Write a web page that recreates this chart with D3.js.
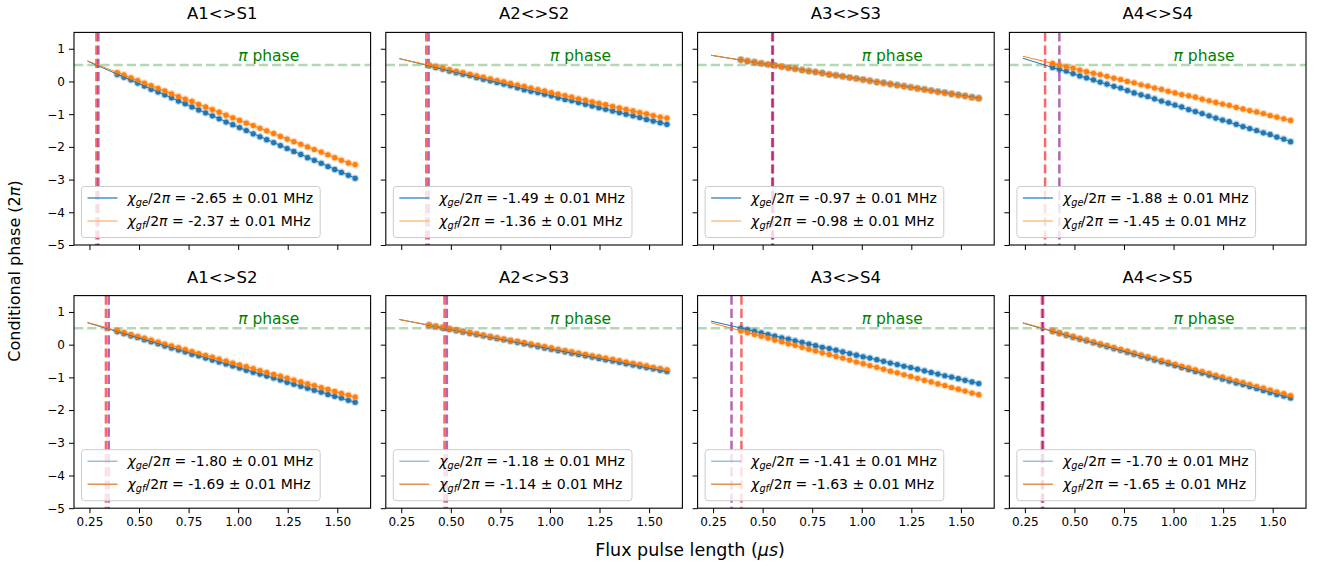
<!DOCTYPE html>
<html>
<head>
<meta charset="utf-8">
<script src="https://cdn.jsdelivr.net/npm/d3@7/dist/d3.min.js"></script>
<style>
  html, body { margin: 0; padding: 0; background: #ffffff; }
  svg { display: block; font-family: "DejaVu Sans", sans-serif; }
</style>
</head>
<body>
<svg id="chart" width="1324" height="568"></svg>
<script>
// ---------------- DATA ----------------
const panelTitles = ["A1<>S1", "A2<>S2", "A3<>S3", "A4<>S4", "A1<>S2", "A2<>S3", "A3<>S4", "A4<>S5"];
const chiGe = [-2.65, -1.49, -0.97, -1.88, -1.80, -1.18, -1.41, -1.70];
const chiGf = [-2.37, -1.36, -0.98, -1.45, -1.69, -1.14, -1.63, -1.65];
const chiErrGe = [0.01, 0.01, 0.01, 0.01, 0.01, 0.01, 0.01, 0.01];
const chiErrGf = [0.01, 0.01, 0.01, 0.01, 0.01, 0.01, 0.01, 0.01];

// fitted lines: phase at the start and end of the fit range
const fitTimes = [0.24, 1.60];
const fitGe = [[0.62, -2.98], [0.70, -1.32], [0.80, -0.52], [0.71, -1.85], [0.67, -1.78], [0.77, -0.84], [0.72, -1.20], [0.66, -1.65]];
const fitGf = [[0.63, -2.59], [0.70, -1.15], [0.80, -0.53], [0.77, -1.21], [0.68, -1.62], [0.77, -0.78], [0.67, -1.55], [0.67, -1.58]];

// pulse lengths where each fit reaches the pi phase (vertical dashed markers)
const piTimeGe = [0.285, 0.376, 0.548, 0.352, 0.333, 0.468, 0.393, 0.336];
const piTimeGf = [0.295, 0.388, 0.552, 0.424, 0.347, 0.480, 0.343, 0.342];
const piPhaseLevel = 0.5;

const xTicks = [0.25, 0.50, 0.75, 1.00, 1.25, 1.50];
const yTicks = [-5, -4, -3, -2, -1, 0, 1];

const pulseTimes = [0.390, 0.424, 0.459, 0.493, 0.527, 0.561, 0.596, 0.630, 0.664, 0.699, 0.733, 0.767,
  0.801, 0.836, 0.870, 0.904, 0.939, 0.973, 1.007, 1.041, 1.076, 1.110, 1.144, 1.179,
  1.213, 1.247, 1.281, 1.316, 1.350, 1.384, 1.419, 1.453, 1.487, 1.521, 1.556, 1.590];

const phaseGe_A1S1 = [0.21, 0.13, 0.05, -0.05, -0.14, -0.24, -0.32, -0.41, -0.50, -0.60, -0.68, -0.78,
  -0.87, -0.96, -1.05, -1.14, -1.24, -1.32, -1.41, -1.50, -1.60, -1.69, -1.78, -1.87,
  -1.96, -2.05, -2.14, -2.23, -2.33, -2.41, -2.50, -2.60, -2.69, -2.78, -2.87, -2.96];
const phaseGf_A1S1 = [0.27, 0.20, 0.11, 0.03, -0.05, -0.13, -0.21, -0.29, -0.38, -0.46, -0.54, -0.61,
  -0.70, -0.78, -0.86, -0.94, -1.03, -1.11, -1.19, -1.27, -1.35, -1.43, -1.51, -1.59,
  -1.68, -1.76, -1.84, -1.92, -2.00, -2.08, -2.16, -2.24, -2.33, -2.41, -2.49, -2.54];

const phaseGe_A2S2 = [0.48, 0.43, 0.38, 0.32, 0.27, 0.22, 0.18, 0.12, 0.07, 0.02, -0.03, -0.08,
  -0.13, -0.19, -0.25, -0.30, -0.34, -0.39, -0.44, -0.50, -0.55, -0.59, -0.64, -0.70,
  -0.75, -0.80, -0.85, -0.90, -0.95, -1.00, -1.05, -1.10, -1.16, -1.21, -1.26, -1.31];
const phaseGf_A2S2 = [0.50, 0.46, 0.41, 0.36, 0.31, 0.27, 0.22, 0.17, 0.13, 0.08, 0.03, -0.01,
  -0.06, -0.11, -0.15, -0.20, -0.25, -0.29, -0.34, -0.39, -0.43, -0.48, -0.53, -0.57,
  -0.62, -0.67, -0.71, -0.76, -0.81, -0.85, -0.90, -0.95, -0.99, -1.04, -1.09, -1.12];

const phaseGe_A3S3 = [0.66, 0.62, 0.59, 0.55, 0.52, 0.49, 0.45, 0.42, 0.39, 0.35, 0.32, 0.29,
  0.26, 0.21, 0.19, 0.16, 0.12, 0.09, 0.06, 0.02, -0.02, -0.04, -0.08, -0.11,
  -0.14, -0.18, -0.21, -0.24, -0.28, -0.31, -0.34, -0.38, -0.41, -0.44, -0.48, -0.51];
const phaseGf_A3S3 = [0.66, 0.63, 0.59, 0.56, 0.52, 0.49, 0.46, 0.42, 0.39, 0.35, 0.32, 0.29,
  0.25, 0.22, 0.19, 0.15, 0.12, 0.09, 0.05, 0.02, -0.02, -0.05, -0.08, -0.12,
  -0.15, -0.18, -0.22, -0.25, -0.28, -0.32, -0.35, -0.38, -0.42, -0.45, -0.49, -0.52];

const phaseGe_A4S4 = [0.43, 0.37, 0.32, 0.24, 0.17, 0.11, 0.05, -0.02, -0.08, -0.15, -0.20, -0.28,
  -0.35, -0.41, -0.46, -0.53, -0.60, -0.66, -0.72, -0.78, -0.86, -0.92, -0.98, -1.05,
  -1.12, -1.18, -1.23, -1.31, -1.38, -1.44, -1.50, -1.57, -1.62, -1.70, -1.76, -1.84];
const phaseGf_A4S4 = [0.55, 0.50, 0.45, 0.41, 0.35, 0.30, 0.25, 0.21, 0.16, 0.10, 0.06, 0.00,
  -0.04, -0.10, -0.14, -0.20, -0.24, -0.30, -0.35, -0.40, -0.44, -0.48, -0.54, -0.59,
  -0.64, -0.69, -0.73, -0.79, -0.84, -0.89, -0.93, -0.98, -1.04, -1.09, -1.14, -1.19];

const phaseGe_A1S2 = [0.40, 0.34, 0.27, 0.22, 0.15, 0.09, 0.03, -0.04, -0.10, -0.16, -0.22, -0.29,
  -0.34, -0.41, -0.47, -0.53, -0.59, -0.65, -0.71, -0.78, -0.84, -0.90, -0.96, -1.02,
  -1.08, -1.15, -1.21, -1.27, -1.33, -1.39, -1.45, -1.52, -1.58, -1.63, -1.70, -1.76];
const phaseGf_A1S2 = [0.43, 0.37, 0.31, 0.25, 0.20, 0.14, 0.08, 0.02, -0.04, -0.09, -0.15, -0.21,
  -0.27, -0.33, -0.38, -0.44, -0.50, -0.56, -0.62, -0.67, -0.73, -0.79, -0.85, -0.91,
  -0.96, -1.02, -1.08, -1.14, -1.20, -1.25, -1.31, -1.37, -1.43, -1.49, -1.54, -1.60];

const phaseGe_A2S3 = [0.59, 0.55, 0.51, 0.47, 0.43, 0.39, 0.35, 0.31, 0.27, 0.23, 0.19, 0.15,
  0.11, 0.07, 0.03, -0.01, -0.06, -0.10, -0.14, -0.18, -0.22, -0.26, -0.30, -0.34,
  -0.38, -0.42, -0.46, -0.50, -0.54, -0.58, -0.62, -0.66, -0.70, -0.74, -0.78, -0.82];
const phaseGf_A2S3 = [0.60, 0.56, 0.53, 0.49, 0.45, 0.41, 0.37, 0.33, 0.29, 0.25, 0.21, 0.17,
  0.13, 0.10, 0.06, 0.02, -0.02, -0.06, -0.10, -0.14, -0.18, -0.22, -0.26, -0.30,
  -0.34, -0.37, -0.41, -0.45, -0.49, -0.53, -0.57, -0.61, -0.65, -0.69, -0.73, -0.77];

const phaseGe_A3S4 = [0.50, 0.46, 0.41, 0.36, 0.31, 0.26, 0.21, 0.17, 0.12, 0.07, 0.02, -0.03,
  -0.08, -0.12, -0.17, -0.22, -0.27, -0.32, -0.37, -0.41, -0.46, -0.51, -0.56, -0.61,
  -0.66, -0.70, -0.75, -0.80, -0.85, -0.90, -0.95, -0.99, -1.04, -1.09, -1.14, -1.19];
const phaseGf_A3S4 = [0.42, 0.37, 0.31, 0.26, 0.20, 0.14, 0.09, 0.03, -0.02, -0.08, -0.14, -0.19,
  -0.25, -0.30, -0.36, -0.41, -0.47, -0.53, -0.58, -0.64, -0.69, -0.75, -0.81, -0.86,
  -0.92, -0.97, -1.03, -1.09, -1.14, -1.20, -1.25, -1.31, -1.36, -1.42, -1.48, -1.53];

const phaseGe_A4S5 = [0.41, 0.35, 0.29, 0.23, 0.17, 0.12, 0.06, 0.00, -0.06, -0.12, -0.17, -0.23,
  -0.29, -0.35, -0.41, -0.47, -0.52, -0.58, -0.64, -0.70, -0.76, -0.82, -0.87, -0.93,
  -0.99, -1.05, -1.11, -1.17, -1.22, -1.28, -1.34, -1.40, -1.46, -1.52, -1.57, -1.63];
const phaseGf_A4S5 = [0.42, 0.36, 0.31, 0.25, 0.19, 0.14, 0.08, 0.02, -0.03, -0.09, -0.15, -0.20,
  -0.26, -0.32, -0.37, -0.43, -0.49, -0.54, -0.60, -0.66, -0.71, -0.77, -0.82, -0.88,
  -0.94, -0.99, -1.05, -1.11, -1.16, -1.22, -1.28, -1.33, -1.39, -1.45, -1.50, -1.56];

const phaseGeSets = [phaseGe_A1S1, phaseGe_A2S2, phaseGe_A3S3, phaseGe_A4S4, phaseGe_A1S2, phaseGe_A2S3, phaseGe_A3S4, phaseGe_A4S5];
const phaseGfSets = [phaseGf_A1S1, phaseGf_A2S2, phaseGf_A3S3, phaseGf_A4S4, phaseGf_A1S2, phaseGf_A2S3, phaseGf_A3S4, phaseGf_A4S5];

// ---------------- LAYOUT / STYLE ----------------
const svg = d3.select("#chart");
const BLUE = "#1f77b4", ORANGE = "#ff7f0e";
const panelW = 296.6, panelH = 212.6;
const colX = c => 74 + c * 311.8;
const rowY = [32.4, 295.6];
const tickFont = 12, titleFont = 16.5, legendFont = 14, xLabelFont = 17.5, yLabelFont = 16;

const xDomain = [0.172, 1.668];
const yDomain = [-5, 1.5];

svg.append("rect").attr("width", 1324).attr("height", 568).attr("fill", "#ffffff");

panelTitles.forEach((title, i) => {
  const r = Math.floor(i / 4), c = i % 4;
  const left = colX(c), top = rowY[r];
  const g = svg.append("g").attr("transform", `translate(${left},${top})`);
  const x = d3.scaleLinear().domain(xDomain).range([0, panelW]);
  const y = d3.scaleLinear().domain(yDomain).range([panelH, 0]);

  const clipId = "clip" + i;
  g.append("clipPath").attr("id", clipId).append("rect").attr("width", panelW).attr("height", panelH);
  const plot = g.append("g").attr("clip-path", `url(#${clipId})`);

  // pi-phase horizontal line
  plot.append("line")
    .attr("x1", 0).attr("x2", panelW)
    .attr("y1", y(piPhaseLevel)).attr("y2", y(piPhaseLevel))
    .attr("stroke", "#008000").attr("stroke-opacity", 0.3)
    .attr("stroke-width", 2.5).attr("stroke-dasharray", "9.2,4");

  // vertical markers
  [[piTimeGe[i], "#ff0000"], [piTimeGf[i], "#800080"]].forEach(([t, col]) => {
    plot.append("line")
      .attr("x1", x(t)).attr("x2", x(t)).attr("y1", 0).attr("y2", panelH)
      .attr("stroke", col).attr("stroke-opacity", 0.6)
      .attr("stroke-width", 2.5).attr("stroke-dasharray", "9.2,4");
  });

  // data points with error halos + fit lines
  const series = [
    { vals: phaseGeSets[i], fit: fitGe[i], col: BLUE },
    { vals: phaseGfSets[i], fit: fitGf[i], col: ORANGE }
  ];
  series.forEach(s => {
    const pts = pulseTimes.map((t, k) => [t, s.vals[k]]);
    plot.append("g").selectAll("circle").data(pts).join("circle")
      .attr("cx", d => x(d[0])).attr("cy", d => y(d[1])).attr("r", 3.8)
      .attr("fill", s.col).attr("fill-opacity", 0.3);
    plot.append("g").selectAll("circle").data(pts).join("circle")
      .attr("cx", d => x(d[0])).attr("cy", d => y(d[1])).attr("r", 2.6)
      .attr("fill", s.col);
  });
  series.forEach(s => {
    plot.append("line")
      .attr("x1", x(fitTimes[0])).attr("x2", x(fitTimes[1]))
      .attr("y1", y(s.fit[0])).attr("y2", y(s.fit[1]))
      .attr("stroke", s.col).attr("stroke-width", 1);
  });

  // pi phase text
  const pt = plot.append("text")
    .attr("x", x(1.0)).attr("y", y(0.62))
    .attr("fill", "#008000").attr("font-size", 15.5);
  pt.append("tspan").attr("font-style", "italic").text("π");
  pt.append("tspan").text(" phase");

  // axes
  const xAxis = d3.axisBottom(x).tickValues(xTicks).tickSize(5).tickPadding(4)
    .tickFormat(r === 1 ? d3.format(".2f") : () => "");
  const yAxis = d3.axisLeft(y).tickValues(yTicks).tickSize(5).tickPadding(4)
    .tickFormat(c === 0 ? (d => d3.format("d")(d).replace("-", "\u2212")) : () => "");
  const gx = g.append("g").attr("transform", `translate(0,${panelH})`).call(xAxis);
  const gy = g.append("g").call(yAxis);
  [gx, gy].forEach(a => {
    a.select(".domain").remove();
    a.selectAll("line").attr("stroke", "#000").attr("stroke-width", 1);
    a.selectAll("text").attr("fill", "#000").attr("font-size", tickFont)
      .attr("font-family", "DejaVu Sans");
  });

  // frame
  g.append("rect").attr("width", panelW).attr("height", panelH)
    .attr("fill", "none").attr("stroke", "#000").attr("stroke-width", 1.1);

  // title
  g.append("text").attr("x", panelW / 2).attr("y", -13)
    .attr("text-anchor", "middle").attr("font-size", titleFont).attr("fill", "#000")
    .text(title);

  // legend
  const lg = g.append("g").attr("transform", `translate(7.5,${panelH - 58.5})`);
  const box = lg.append("rect").attr("rx", 3).attr("ry", 3)
    .attr("fill", "#ffffff").attr("fill-opacity", 0.8)
    .attr("stroke", "#cccccc").attr("stroke-width", 1).attr("height", 51);
  const entries = [
    { sub: "ge", chi: chiGe[i], err: chiErrGe[i], col: r === 0 ? BLUE : "#7fb2d8" },
    { sub: "gf", chi: chiGf[i], err: chiErrGf[i], col: r === 0 ? "#ffb066" : "#d9772e" }
  ];
  let maxW = 0;
  entries.forEach((e, k) => {
    const cy = 11.5 + k * 23;
    lg.append("line").attr("x1", 6).attr("x2", 36).attr("y1", cy).attr("y2", cy)
      .attr("stroke", e.col).attr("stroke-width", 1.2);
    const t = lg.append("text").attr("x", 46).attr("y", cy + 5)
      .attr("font-size", legendFont).attr("fill", "#000");
    t.append("tspan").attr("font-style", "italic").text("χ");
    t.append("tspan").attr("font-style", "italic").attr("font-size", legendFont * 0.7)
      .attr("dy", 3).text(e.sub);
    t.append("tspan").attr("dy", -3).text("/2");
    t.append("tspan").attr("font-style", "italic").text("π");
    t.append("tspan").text(` = ${e.chi.toFixed(2)} \u00b1 ${e.err.toFixed(2)} MHz`);
    maxW = Math.max(maxW, t.node().getComputedTextLength());
  });
  box.attr("width", 46 + maxW + 7);
});

// shared axis labels
svg.append("text")
  .attr("x", 690).attr("y", 556)
  .attr("text-anchor", "middle").attr("font-size", xLabelFont).attr("fill", "#000")
  .call(t => {
    t.append("tspan").text("Flux pulse length (");
    t.append("tspan").attr("font-style", "italic").text("μs");
    t.append("tspan").text(")");
  });
svg.append("text")
  .attr("transform", "translate(20,271) rotate(-90)")
  .attr("text-anchor", "middle").attr("font-size", yLabelFont).attr("fill", "#000")
  .call(t => {
    t.append("tspan").text("Conditional phase (2");
    t.append("tspan").attr("font-style", "italic").text("π");
    t.append("tspan").text(")");
  });
</script>
</body>
</html>
